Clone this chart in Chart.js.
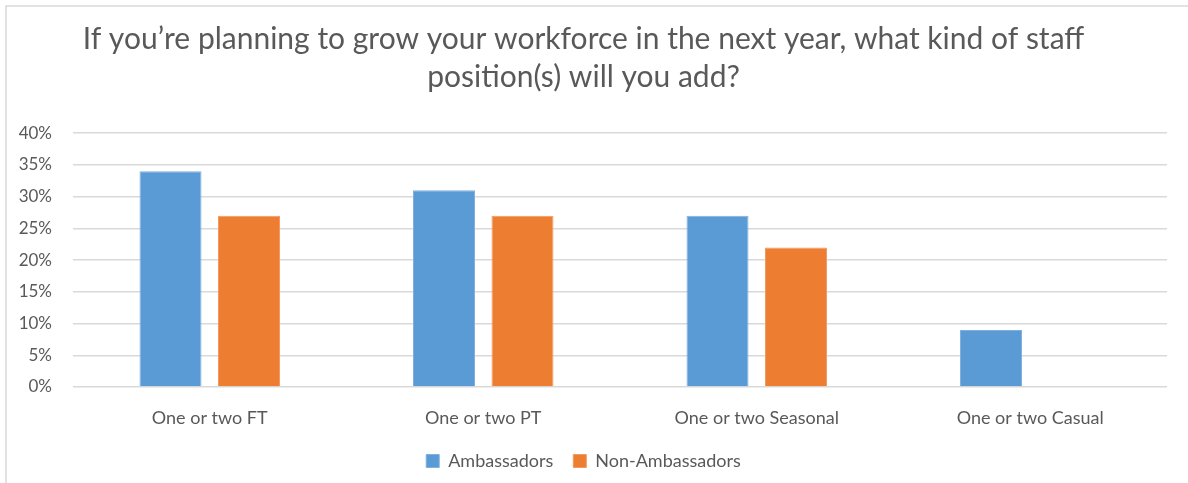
<!DOCTYPE html>
<html>
<head>
<meta charset="utf-8">
<script src="https://cdn.jsdelivr.net/npm/chart.js@4/dist/chart.umd.min.js"></script>
<style>
  html, body { margin: 0; padding: 0; background: #ffffff; }
  #wrap { position: relative; width: 1188px; height: 483px; }
</style>
</head>
<body>
<div id="wrap"><canvas id="chart" width="1188" height="483"></canvas></div>
<script>
// Survey results: share of respondents planning each kind of new staff position (%)
const categories = ['One or two FT', 'One or two PT', 'One or two Seasonal', 'One or two Casual'];
const ambassadors = [34, 31, 27, 9];
const nonAmbassadors = [27, 27, 22, 0];
const seriesNames = ['Ambassadors', 'Non-Ambassadors'];
const titleLines = ['If you\u2019re planning to grow your workforce in the next year, what kind of staff', 'position(s) will you add?'];

const TEXT = '#595959';
const GRID = '#d9d9d9';
const FONT = 'Lato, "Open Sans", sans-serif';

// white background plus the light frame around the chart
const framePlugin = {
  id: 'frame',
  beforeDraw(chart) {
    const ctx = chart.ctx;
    ctx.save();
    ctx.fillStyle = '#ffffff';
    ctx.fillRect(0, 0, chart.width, chart.height);
    ctx.strokeStyle = GRID;
    ctx.lineWidth = 1.5;
    ctx.strokeRect(6, 6, chart.width + 20, chart.height + 20);
    ctx.restore();
  }
};

new Chart(document.getElementById('chart'), {
  type: 'bar',
  data: {
    labels: categories,
    datasets: [
      { label: seriesNames[0], data: ambassadors, backgroundColor: '#5B9BD5', borderColor: '#7fb1e0', borderWidth: 1 },
      { label: seriesNames[1], data: nonAmbassadors, backgroundColor: '#ED7D31', borderColor: '#f29a60', borderWidth: 1 }
    ]
  },
  options: {
    responsive: false,
    animation: false,
    devicePixelRatio: 1,
    datasets: { bar: { categoryPercentage: 0.574, barPercentage: 0.79 } },
    layout: { padding: { left: 0, right: 21, top: 0, bottom: 3 } },
    plugins: {
      title: {
        display: true,
        text: titleLines,
        color: TEXT,
        font: { family: FONT, size: 30, weight: 'normal', lineHeight: 1.27 },
        padding: { top: 20, bottom: 37 }
      },
      legend: {
        display: true,
        position: 'bottom',
        labels: {
          color: TEXT,
          font: { family: FONT, size: 18 },
          boxWidth: 13,
          boxHeight: 13,
          padding: 20
        }
      },
      tooltip: { enabled: false }
    },
    scales: {
      x: {
        grid: { display: false, drawTicks: false },
        border: { display: false },
        ticks: { color: TEXT, font: { family: FONT, size: 18 }, padding: 20, maxRotation: 0 },
        afterFit(scale) { scale.height = 45; }
      },
      y: {
        min: 0,
        max: 40,
        grid: { color: GRID, lineWidth: 1.5, drawTicks: false },
        border: { display: false },
        ticks: {
          stepSize: 5,
          color: TEXT,
          font: { family: FONT, size: 17 },
          padding: 21,
          callback: (v) => v + '%'
        },
        afterFit(scale) { scale.width = 73; }
      }
    }
  },
  plugins: [framePlugin]
});
</script>
</body>
</html>
